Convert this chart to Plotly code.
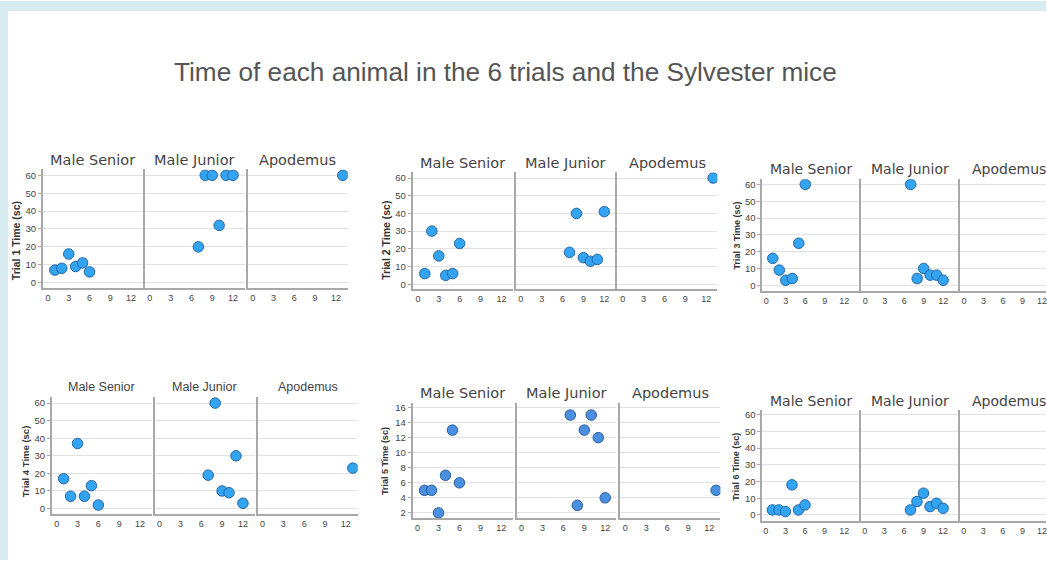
import plotly.graph_objects as go

# ---------------- data ----------------
facets = ["Male Senior", "Male Junior", "Apodemus"]
senior_ids = [1, 2, 3, 4, 5, 6]
junior_ids = [7, 8, 9, 10, 11, 12]
apod_ids = [13]

trial1_senior = [7, 8, 16, 9, 11, 6]
trial1_junior = [20, 60, 60, 32, 60, 60]
trial1_apod = [60]

trial2_senior = [6, 30, 16, 5, 6, 23]
trial2_junior = [18, 40, 15, 13, 14, 41]
trial2_apod = [60]

trial3_senior = [16, 9, 3, 4, 25, 60]
trial3_junior = [60, 4, 10, 6, 6, 3]
trial3_apod = []

trial4_senior = [17, 7, 37, 7, 13, 2]
trial4_junior = [19, 60, 10, 9, 30, 3]
trial4_apod = [23]

trial5_senior = [5, 5, 2, 7, 13, 6]
trial5_junior = [15, 3, 13, 15, 12, 4]
trial5_apod = [5]

trial6_senior = [3, 3, 2, 18, 3, 6]
trial6_junior = [3, 8, 13, 5, 7, 4]
trial6_apod = []

x_ticks = [0, 3, 6, 9, 12]
y_ticks_60 = [0, 10, 20, 30, 40, 50, 60]
y_ticks_16 = [2, 4, 6, 8, 10, 12, 14, 16]

trials = [
    ("Trial 1 Time (sc)", trial1_senior, trial1_junior, trial1_apod, y_ticks_60),
    ("Trial 2 Time (sc)", trial2_senior, trial2_junior, trial2_apod, y_ticks_60),
    ("Trial 3 Time (sc)", trial3_senior, trial3_junior, trial3_apod, y_ticks_60),
    ("Trial 4 Time (sc)", trial4_senior, trial4_junior, trial4_apod, y_ticks_60),
    ("Trial 5 Time (sc)", trial5_senior, trial5_junior, trial5_apod, y_ticks_16),
    ("Trial 6 Time (sc)", trial6_senior, trial6_junior, trial6_apod, y_ticks_60),
]

# ---------------- layout geometry (pixels) ----------------
W, H = 1047, 561
panels = [
    dict(lefts=[43, 145, 248], w=100, top=169, bot=288, yr=[-3, 63.3], xr=[-0.72, 13.7],
         title_y=160, lab_x=16, lab_y=240, lab_size=10.5, tfont="DejaVu Sans", tsize=14.5,
         fill="#33a4f0", edge="#2366a8"),
    dict(lefts=[413, 516, 618], w=100, top=172, bot=289, yr=[-2.7, 63.2], xr=[-0.76, 13.6],
         title_y=163, lab_x=387, lab_y=240, lab_size=10.5, tfont="DejaVu Sans", tsize=14.5,
         fill="#33a4f0", edge="#2366a8"),
    dict(lefts=[763, 862, 961], w=97, top=179, bot=291, yr=[-3.4, 63], xr=[-0.62, 14.3],
         title_y=169, lab_x=738, lab_y=235, lab_size=9, tfont="DejaVu Sans", tsize=14,
         fill="#33a4f0", edge="#2366a8"),
    dict(lefts=[52, 155, 258], w=100, top=397, bot=515, yr=[-3.2, 63.7], xr=[-0.68, 13.7],
         title_y=387, lab_x=25, lab_y=462, lab_size=9.5, tfont="Liberation Sans", tsize=12.5,
         fill="#33a4f0", edge="#2366a8"),
    dict(lefts=[413, 517, 621], w=100, top=403, bot=519, yr=[1.3, 16.66], xr=[-0.71, 13.6],
         title_y=393, lab_x=386, lab_y=462, lab_size=9, tfont="DejaVu Sans", tsize=14.5,
         fill="#4a8fe0", edge="#2a5c9c"),
    dict(lefts=[763, 862, 961], w=97, top=410, bot=522, yr=[-3.7, 63], xr=[-0.55, 14.3],
         title_y=401, lab_x=737, lab_y=467, lab_size=9, tfont="DejaVu Sans", tsize=14,
         fill="#33a4f0", edge="#2366a8"),
]

fig = go.Figure()
annotations = []
layout_axes = {}
idx = 0
for p, (ylabel, sv, jv, av, yt) in zip(panels, trials):
    groups = [(senior_ids, sv), (junior_ids, jv), (apod_ids[:len(av)], av)]
    for f, (xs, ys) in enumerate(groups):
        idx += 1
        xname = "x" if idx == 1 else f"x{idx}"
        yname = "y" if idx == 1 else f"y{idx}"
        l = p["lefts"][f]
        r = l + p["w"]
        xr = list(p["xr"])
        if r > W:
            # facet is cut at the page edge: shrink its range proportionally
            xr[1] = xr[0] + (xr[1] - xr[0]) * (W - l) / p["w"]
            r = W
        fig.add_trace(go.Scatter(
            x=xs, y=ys, mode="markers", xaxis=xname, yaxis=yname,
            marker=dict(size=10.5, color=p["fill"], line=dict(color=p["edge"], width=1)),
            showlegend=False, hoverinfo="x+y"))
        first = f == 0
        layout_axes["xaxis" if idx == 1 else f"xaxis{idx}"] = dict(
            domain=[l / W, r / W], range=xr, tickvals=x_ticks, showgrid=False,
            zeroline=False, showline=True, linecolor="#a8a8a8", linewidth=1.5,
            ticks="", ticklabeloverflow="allow",
            tickfont=dict(size=9, color="#444", family="Liberation Sans"),
            anchor=yname, fixedrange=True)
        layout_axes["yaxis" if idx == 1 else f"yaxis{idx}"] = dict(
            domain=[1 - p["bot"] / H, 1 - p["top"] / H], range=p["yr"], tickvals=yt,
            showgrid=True, gridcolor="#e2e2e2", gridwidth=1, zeroline=False,
            showline=True, linecolor="#a8a8a8", linewidth=1.8,
            showticklabels=first, ticks="outside" if first else "", ticklen=3,
            tickcolor="#a8a8a8",
            tickfont=dict(size=9.5, color="#444", family="Liberation Sans"),
            anchor=xname, fixedrange=True)
        annotations.append(dict(
            text=facets[f], x=(l + p["w"] / 2) / W,
            y=1 - p["title_y"] / H, xref="paper", yref="paper",
            showarrow=False, xanchor="center", yanchor="middle",
            font=dict(family=p["tfont"], size=p["tsize"], color="#444")))
    annotations.append(dict(
        text=f"<b>{ylabel}</b>", x=p["lab_x"] / W, y=1 - p["lab_y"] / H,
        xref="paper", yref="paper", showarrow=False, textangle=-90,
        xanchor="center", yanchor="middle",
        font=dict(family="Liberation Sans", size=p["lab_size"], color="#333")))

annotations.append(dict(
    text="Time of each animal in the 6 trials and the Sylvester mice",
    x=506 / W, y=1 - 71 / H, xref="paper", yref="paper", showarrow=False,
    xanchor="center", yanchor="middle",
    font=dict(family="Liberation Sans", size=26.2, color="#555")))

shapes = [
    dict(type="rect", xref="paper", yref="paper", x0=0, x1=1, y0=1 - 10 / H, y1=1,
         fillcolor="#d7ebf1", line=dict(width=0), layer="below"),
    dict(type="rect", xref="paper", yref="paper", x0=0, x1=8 / W, y0=0, y1=1,
         fillcolor="#d7ebf1", line=dict(width=0), layer="below"),
]

fig.update_layout(
    width=W, height=H, margin=dict(l=0, r=0, t=0, b=0),
    paper_bgcolor="white", plot_bgcolor="white",
    annotations=annotations, shapes=shapes, showlegend=False,
    **layout_axes)

fig.write_html("out.html")
